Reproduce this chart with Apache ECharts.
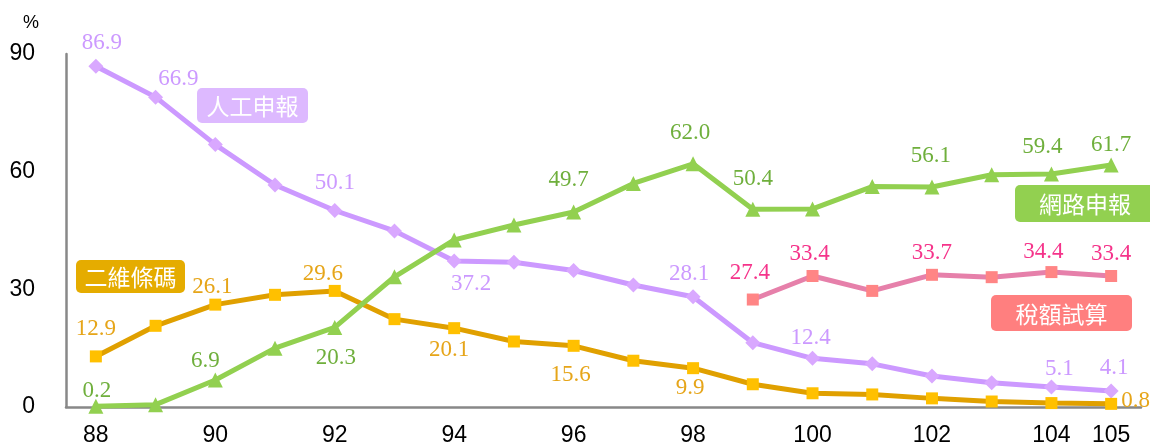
<!DOCTYPE html>
<html>
<head>
<meta charset="utf-8">
<script src="https://cdn.jsdelivr.net/npm/echarts@6/dist/echarts.min.js"></script>
<style>html,body{margin:0;padding:0;background:#fff}#c{width:1150px;height:443px}</style>
</head>
<body>
<div id="c"></div>
<script>
// ---- data ----
const years = ['88','89','90','91','92','93','94','95','96','97','98','99','100','101','102','103','104','105'];
const manual = [86.9, 79.0, 66.9, 56.6, 50.1, 44.9, 37.2, 36.9, 34.8, 31.1, 28.1, 16.4, 12.4, 11.0, 7.9, 6.2, 5.1, 4.1];
const barcode = [12.9, 20.7, 26.1, 28.6, 29.6, 22.4, 20.1, 16.7, 15.6, 11.8, 9.9, 5.8, 3.5, 3.2, 2.2, 1.4, 1.0, 0.8];
const online = [0.2, 0.6, 6.9, 15.0, 20.3, 33.2, 42.6, 46.4, 49.7, 57.0, 62.0, 50.4, 50.5, 56.2, 56.1, 59.2, 59.4, 61.7];
const taxCalc = [null, null, null, null, null, null, null, null, null, null, null, 27.4, 33.4, 29.6, 33.7, 33.1, 34.4, 33.4];
const seriesNames = ['人工申報', '二維條碼', '網路申報', '稅額試算'];
const yTicks = [0, 30, 60, 90];

// ---- label placement (style config) ----
const manualLbl = {0:['top',[6,0]],2:['top',[-37,-43]],4:['top',[0,-5]],6:['bottom',[17,0]],10:['top',[-4,0]],12:['top',[-2,3]],16:['top',[8,5]],17:['top',[3,0]]};
const barcodeLbl = {0:['top',[0,-6]],2:['top',[-3,4]],4:['top',[-12,5]],6:['bottom',[-5,0]],8:['bottom',[-3,8]],10:['bottom',[-3,-2]],17:['right',[0,-3]]};
const onlineLbl = {0:['top',[1,8]],2:['top',[-10,4]],4:['bottom',[1,8]],8:['top',[-5,-9]],10:['top',[-3,-8]],11:['top',[0,-7]],14:['top',[-1,-8]],16:['top',[-9,-4]],17:['top',[0,3]]};
const taxLbl = {11:['top',[-3,-5]],12:['top',[-3,-1]],14:['top',[0,0]],16:['top',[-8,1]],17:['top',[0,-1]]};

const serif = 'Liberation Serif, Times New Roman, serif';
const sans = 'Liberation Sans, Arial, sans-serif';

function build(values, lblMap, color) {
  return values.map((v, i) => {
    const item = { value: v };
    if (lblMap[i]) {
      item.label = { show: true, position: lblMap[i][0], offset: lblMap[i][1], color: color,
        fontFamily: serif, fontSize: 23, distance: 4,
        formatter: (p) => Number(p.value).toFixed(1) };
    }
    return item;
  });
}

function legendBox(x, y, w, h, text, fill) {
  return {
    type: 'group', left: x, top: y,
    children: [
      { type: 'rect', shape: { x: 0, y: 0, width: w, height: h, r: 5 }, style: { fill: fill } },
      { type: 'text', x: w / 2, y: h / 2 + 1, style: { text: text, fill: '#fff',
        font: '23px "Noto Sans CJK TC", sans-serif', textAlign: 'center', textVerticalAlign: 'middle' } }
    ]
  };
}

const chart = echarts.init(document.getElementById('c'), null, { renderer: 'canvas' });
chart.setOption({
  animation: false,
  backgroundColor: '#fff',
  grid: { left: 66, right: 9, top: 54, bottom: 36, containLabel: false, outerBoundsMode: 'none' },
  xAxis: {
    type: 'category', data: years, boundaryGap: true,
    axisLine: { show: true, lineStyle: { color: '#888', width: 2.5 } },
    axisTick: { show: false },
    axisLabel: { color: '#000', fontSize: 23, fontFamily: sans, margin: 17,
      interval: (i) => i % 2 === 0 || i === years.length - 1 }
  },
  yAxis: {
    type: 'value', min: yTicks[0], max: yTicks[yTicks.length - 1], interval: 30,
    axisLine: { show: true, lineStyle: { color: '#888', width: 2.5 } },
    axisTick: { show: false },
    splitLine: { show: false },
    axisLabel: { color: '#000', fontSize: 23, fontFamily: sans, margin: 31 }
  },
  series: [
    { name: seriesNames[0], type: 'line', data: build(manual, manualLbl, '#CC99FF'),
      lineStyle: { color: '#CC99FF', width: 5 }, symbol: 'diamond', symbolSize: 15,
      itemStyle: { color: '#D9A8FF' }, z: 2 },
    { name: seriesNames[1], type: 'line', data: build(barcode, barcodeLbl, '#E6A519'),
      lineStyle: { color: '#E0A000', width: 5 }, symbol: 'rect', symbolSize: 12,
      itemStyle: { color: '#FFC000' }, z: 3 },
    { name: seriesNames[3], type: 'line', data: build(taxCalc, taxLbl, '#F5338A'),
      lineStyle: { color: '#E680AA', width: 5 }, symbol: 'rect', symbolSize: 12,
      itemStyle: { color: '#FF8585' }, z: 4 },
    { name: seriesNames[2], type: 'line', data: build(online, onlineLbl, '#6FAF3C'),
      lineStyle: { color: '#92D050', width: 5 }, symbol: 'triangle', symbolSize: 15,
      itemStyle: { color: '#92D050' }, z: 5 }
  ],
  graphic: [
    { type: 'text', left: 23, top: 14, style: { text: '%', fill: '#000', font: '18px "Liberation Sans", Arial, sans-serif' } },
    legendBox(197, 88, 111, 35, seriesNames[0], '#DDB9FF'),
    legendBox(1015, 185, 140, 37, seriesNames[2], '#92D050'),
    legendBox(76, 260, 109, 33, seriesNames[1], '#E5AC00'),
    legendBox(991, 295, 141, 36, seriesNames[3], '#FF7F7F')
  ]
});
</script>
</body>
</html>
